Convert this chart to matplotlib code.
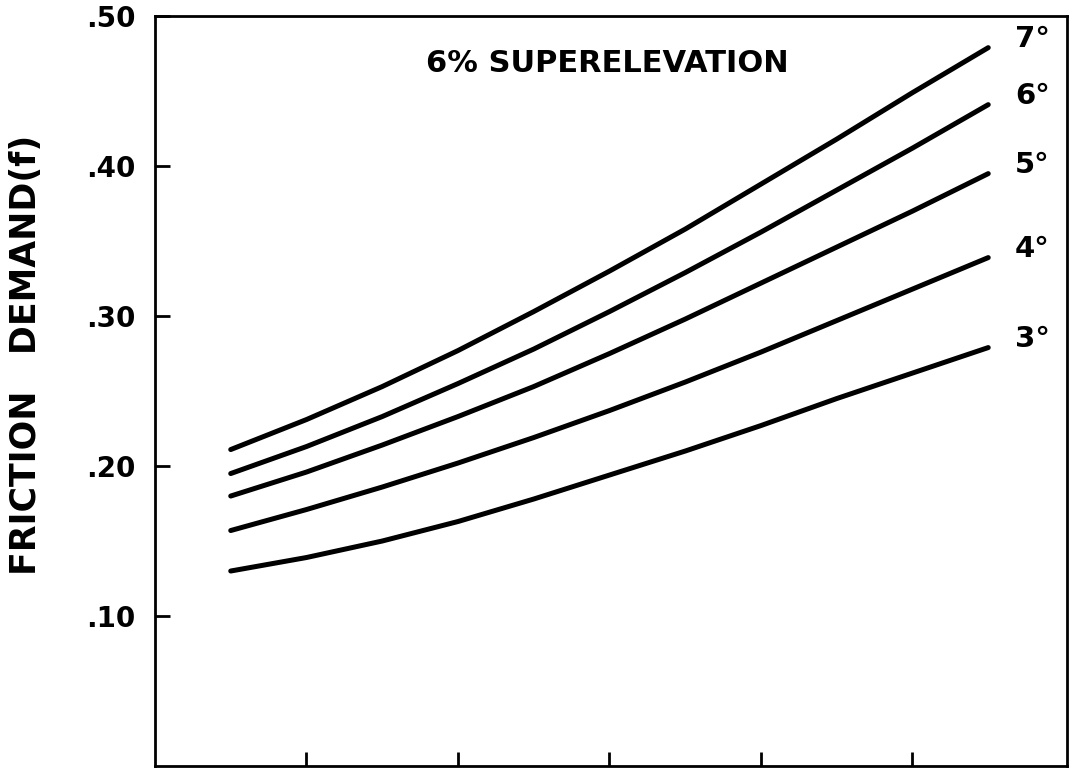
import matplotlib
matplotlib.use("Agg")
import matplotlib.pyplot as plt
from matplotlib.ticker import FuncFormatter

# Curve readings (x in tick units along the unlabeled axis)
x_pos = [0.5, 1.0, 1.5, 2.0, 2.5, 3.0, 3.5, 4.0, 4.5, 5.0, 5.5]
f_3deg = [0.130, 0.139, 0.150, 0.163, 0.178, 0.194, 0.210, 0.227, 0.245, 0.262, 0.279]
f_4deg = [0.157, 0.171, 0.186, 0.202, 0.219, 0.237, 0.256, 0.276, 0.297, 0.318, 0.339]
f_5deg = [0.180, 0.196, 0.214, 0.233, 0.253, 0.275, 0.298, 0.322, 0.346, 0.370, 0.395]
f_6deg = [0.195, 0.213, 0.233, 0.255, 0.278, 0.303, 0.329, 0.356, 0.384, 0.412, 0.441]
f_7deg = [0.211, 0.231, 0.253, 0.277, 0.303, 0.330, 0.358, 0.388, 0.418, 0.449, 0.479]
curve_labels = ["3°", "4°", "5°", "6°", "7°"]

y_ticks = [0.10, 0.20, 0.30, 0.40, 0.50]
x_ticks = [1, 2, 3, 4, 5]

fig = plt.figure(figsize=(10.74, 7.77), dpi=100)
ax = fig.add_axes([0.1443, 0.0142, 0.8492, 0.965])

# Draw the curves
for series, label in zip([f_3deg, f_4deg, f_5deg, f_6deg, f_7deg], curve_labels):
    ax.plot(x_pos, series, color="black", linewidth=3.6, solid_capstyle="round")
    ax.text(x_pos[-1] + 0.29, series[-1] + 0.006, label, fontsize=21,
            fontweight="bold", ha="center", va="center")

ax.set_xlim(0, 6.02)
ax.set_ylim(0, 0.5)

ax.set_xticks(x_ticks)
ax.set_xticklabels([])
ax.set_yticks(y_ticks)
ax.yaxis.set_major_formatter(FuncFormatter(lambda v, p: ("%.2f" % v)[1:]))
ax.tick_params(axis="both", direction="in", width=2, color="black")
ax.tick_params(axis="x", length=10)
ax.tick_params(axis="y", length=11, pad=14, labelsize=20)
for lbl in ax.get_yticklabels():
    lbl.set_fontweight("bold")

for spine in ax.spines.values():
    spine.set_linewidth(2)

ax.set_ylabel("FRICTION   DEMAND(f)", fontsize=25, fontweight="bold", va="center")
ax.yaxis.set_label_coords(-0.141, 0.548)
ax.text(0.496, 0.937, "6% SUPERELEVATION", transform=ax.transAxes,
        fontsize=22, fontweight="bold", ha="center", va="center")

fig.savefig("out.png", dpi=100)
